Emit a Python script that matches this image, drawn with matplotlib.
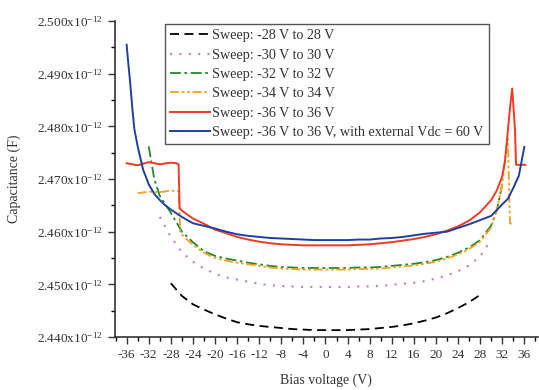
import matplotlib.pyplot as plt
from matplotlib.ticker import MultipleLocator, FuncFormatter

plt.rcParams['font.family'] = ['Liberation Serif', 'DejaVu Serif']
plt.rcParams['mathtext.fontset'] = 'custom'
plt.rcParams['mathtext.rm'] = 'Liberation Serif'

# capacitance values in units of 1e-12 F
v28 = [-28, -26, -24, -22, -20, -18, -16, -14, -12, -10, -8, -6, -4, -2, 0,
       2, 4, 6, 8, 10, 12, 14, 16, 18, 20, 22, 24, 26, 28]
c28 = [2.4502, 2.4478, 2.4462, 2.4452, 2.4443, 2.4435, 2.4428, 2.4424, 2.4421,
       2.4419, 2.4417, 2.4415, 2.4414, 2.4413, 2.4413, 2.4413, 2.4413, 2.4414,
       2.4415, 2.4417, 2.4419, 2.4422, 2.4426, 2.4431, 2.4437, 2.4445, 2.4455,
       2.4466, 2.4480]

v30 = [-30, -28, -26, -24, -22, -20, -18, -16, -14, -12, -10, -8, -6, -4, -2, 0,
       2, 4, 6, 8, 10, 12, 14, 16, 18, 20, 22, 24, 26, 28, 30]
c30 = [2.4628, 2.4590, 2.4561, 2.4543, 2.4530, 2.4520, 2.4513, 2.4509, 2.4505,
       2.4501, 2.4498, 2.4497, 2.4496, 2.4495, 2.4495, 2.4495, 2.4495, 2.4495,
       2.4496, 2.4496, 2.4497, 2.4499, 2.4501, 2.4503, 2.4506, 2.4511, 2.4517,
       2.4525, 2.4536, 2.4553, 2.4585]

v32 = [-32, -31, -30, -28, -26, -24, -22, -20, -18, -16, -14, -12, -10, -8, -6,
       -4, -2, 0, 2, 4, 6, 8, 10, 12, 14, 16, 18, 20, 22, 24, 26, 28, 30, 31, 32]
c32 = [2.4762, 2.4700, 2.4668, 2.4636, 2.4600, 2.4580, 2.4563, 2.4554, 2.4549,
       2.4545, 2.4541, 2.4538, 2.4535, 2.4533, 2.4532, 2.4531, 2.4531, 2.4531,
       2.4531, 2.4531, 2.4532, 2.4532, 2.4533, 2.4535, 2.4537, 2.4539, 2.4542,
       2.4546, 2.4552, 2.4560, 2.4570, 2.4584, 2.4612, 2.4640, 2.4690]

v34 = [-34, -32, -30, -28, -26.6, -26.3, -26, -24, -22, -20, -18, -16, -14, -12,
       -10, -8, -6, -4, -2, 0, 2, 4, 6, 8, 10, 12, 14, 16, 18, 20, 22, 24, 26,
       28, 30, 31, 32, 32.5, 33, 33.4, 34]
c34 = [2.4673, 2.4676, 2.4675, 2.4678, 2.4677, 2.4600, 2.4594, 2.4575, 2.4560,
       2.4550, 2.4545, 2.4541, 2.4538, 2.4535, 2.4532, 2.4530, 2.4529, 2.4528,
       2.4528, 2.4528, 2.4528, 2.4528, 2.4529, 2.4529, 2.4530, 2.4532, 2.4534,
       2.4536, 2.4539, 2.4543, 2.4549, 2.4557, 2.4567, 2.4581, 2.4608, 2.4640,
       2.4690, 2.4735, 2.4780, 2.4616, 2.4614]

v36 = [-36, -34, -32, -30, -28, -27, -26.6, -26.4, -26, -24, -22, -20, -18, -16,
       -14, -12, -10, -8, -6, -4, -2, 0, 2, 4, 6, 8, 10, 12, 14, 16, 18, 20, 22,
       24, 26, 28, 30, 31, 32, 32.5, 33, 33.5, 33.8, 34.3, 34.5, 36.2]
c36 = [2.4730, 2.4726, 2.4732, 2.4728, 2.4731, 2.4730, 2.4728, 2.4645, 2.4640,
       2.4625, 2.4615, 2.4604, 2.4597, 2.4590, 2.4585, 2.4581, 2.4578, 2.4576,
       2.4575, 2.4574, 2.4574, 2.4574, 2.4574, 2.4574, 2.4575, 2.4576, 2.4578,
       2.4580, 2.4583, 2.4586, 2.4590, 2.4595, 2.4602, 2.4610, 2.4621, 2.4637,
       2.4660, 2.4678, 2.4705, 2.4735, 2.4790, 2.4845, 2.4872, 2.4795, 2.4727,
       2.4727]

v36e = [-36, -35.7, -35.4, -35, -34.6, -34, -33.4, -33, -32.5, -32, -31, -30, -29,
        -28, -27, -26, -24, -22, -20, -18, -16, -14, -12, -10, -8, -6, -4, -2, 0,
        2, 4, 6, 8, 10, 12, 14, 16, 18, 20, 22, 24, 26, 28, 30, 31, 32, 33, 34,
        35, 36]
c36e = [2.4955, 2.4920, 2.4888, 2.4838, 2.4795, 2.4762, 2.4735, 2.4717, 2.4704,
        2.4690, 2.4672, 2.4660, 2.4650, 2.4642, 2.4635, 2.4628, 2.4616, 2.4611,
        2.4606, 2.4600, 2.4595, 2.4592, 2.4590, 2.4588, 2.4587, 2.4586, 2.4585,
        2.4584, 2.4584, 2.4584, 2.4584, 2.4585, 2.4585, 2.4587, 2.4588, 2.4590,
        2.4593, 2.4596, 2.4598, 2.4600, 2.4607, 2.4614, 2.4622, 2.4630, 2.4641,
        2.4652, 2.4662, 2.4683, 2.4706, 2.4761]

labels = ['Sweep: -28 V to 28 V', 'Sweep: -30 V to 30 V', 'Sweep: -32 V to 32 V',
          'Sweep: -34 V to 34 V', 'Sweep: -36 V to 36 V',
          'Sweep: -36 V to 36 V, with external Vdc = 60 V']

fig = plt.figure(figsize=(5.39, 3.90), dpi=100)
ax = fig.add_axes([0.2134, 0.136, 0.784, 0.81])

ax.plot(v28, c28, color='black', lw=1.3, ls=(0, (5, 3)), label=labels[0])
ax.plot(v30, c30, color='#c977d9', lw=1.5, ls=(0, (1, 3.5)), label=labels[1])
ax.plot(v32, c32, color='#1f8a2a', lw=1.3, ls=(0, (6, 2, 1.5, 2)), label=labels[2])
ax.plot(v34, c34, color='#f5a020', lw=1.3, ls=(0, (5, 1.5, 1.5, 1.5, 1.5, 1.5)), label=labels[3])
ax.plot(v36, c36, color='#f03a24', lw=1.4, label=labels[4])
ax.plot(v36e, c36e, color='#2040a0', lw=1.4, label=labels[5])

ax.set_xlim(-38.1, 38.4)
ax.set_ylim(2.440, 2.500)
ax.xaxis.set_major_locator(MultipleLocator(4))
ax.xaxis.set_minor_locator(MultipleLocator(2))
ax.yaxis.set_major_locator(MultipleLocator(0.01))
ax.yaxis.set_minor_locator(MultipleLocator(0.005))
ax.yaxis.set_major_formatter(FuncFormatter(
    lambda y, p: r'$\mathregular{%.3fx10^{-12}}$' % y))
ax.xaxis.set_major_formatter(FuncFormatter(lambda x, p: '%d' % x))
ax.tick_params(which='major', direction='out', length=5, width=1, labelsize=9.5, colors='#333333')
ax.tick_params(which='minor', direction='out', length=3, width=1)
for s in ['top', 'right']:
    ax.spines[s].set_visible(False)
for s in ['left', 'bottom']:
    ax.spines[s].set_linewidth(1.2)
    ax.spines[s].set_color('#333333')

ax.set_xlabel('Bias voltage (V)', fontsize=10, color='#333333', labelpad=9)
ax.set_ylabel('Capacitance (F)', fontsize=10, color='#333333', labelpad=12)

leg = ax.legend(loc='upper left', bbox_to_anchor=(0.118, 0.99), borderaxespad=0,
                fontsize=10.2, handlelength=2.8, handletextpad=0.2, labelspacing=0.45,
                fancybox=False, framealpha=1, edgecolor='#555555', borderpad=0.35)
leg.get_frame().set_linewidth(1.0)
for t in leg.get_texts():
    t.set_color('#333333')

fig.savefig('out.png', dpi=100)
